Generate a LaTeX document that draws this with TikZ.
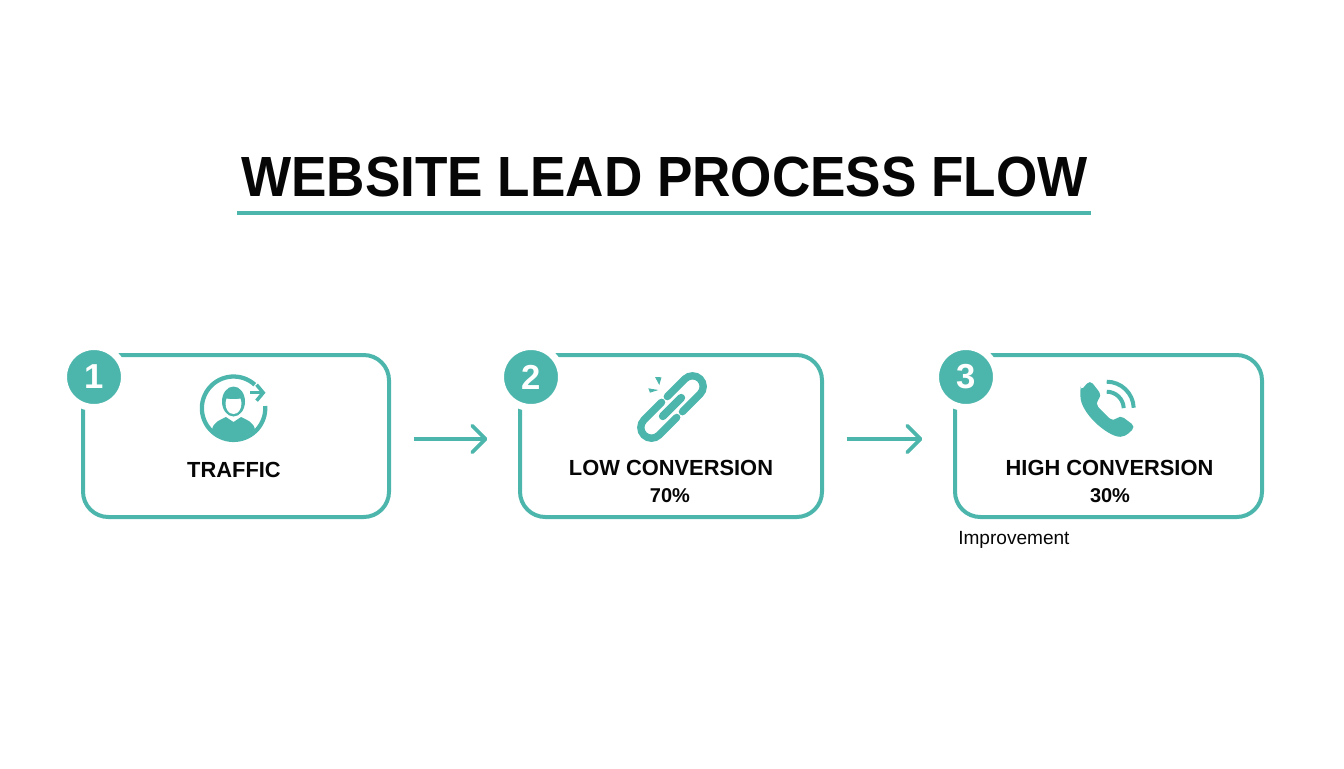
\documentclass[tikz,border=0pt]{standalone}
\usepackage{fontspec}
\setmainfont{Liberation Sans}
\newfontfamily\leadtitle[FakeStretch=0.937]{Liberation Sans}
\usetikzlibrary{arrows.meta}
\definecolor{leadteal}{HTML}{4DB6AC}
\definecolor{leadink}{HTML}{060606}
\tikzset{
  card/.style={draw=leadteal,line width=3pt,rounded corners=19pt,outer sep=0pt,minimum height=121.5pt},
  badge/.style={circle,fill=leadteal,draw=white,line width=5.25pt,minimum size=45.75pt,inner sep=0pt,text=white,font=\bfseries\fontsize{26}{30}\selectfont},
  heading/.style={text=leadink,inner sep=0pt,font=\bfseries\fontsize{16.4}{18}\selectfont},
  value/.style={text=leadink,inner sep=0pt,font=\bfseries\fontsize{15}{18}\selectfont},
  flowarrow/.style={draw=leadteal,line width=2.8pt,shorten <=18.5pt,shorten >=24.5pt,-{Straight Barb[length=10pt,width=20pt,round]}},
  iconline/.style={draw=leadteal,line width=5.5pt,line cap=round},
}
\begin{document}
\begin{tikzpicture}[x=0.75pt,y=-0.75pt]
      \useasboundingbox (0,0) rectangle (1344,768);
      \node (title) at (664.5,176.5) [text=leadink,inner sep=0pt,font=\leadtitle\bfseries\fontsize{42.5}{52}\selectfont] {WEBSITE LEAD PROCESS FLOW};
      \coordinate (ruleleft) at (237,213);
      \coordinate (ruleright) at (1091,213);
      \draw [leadteal,line width=3pt] (ruleleft) -- (ruleright);
      % cards
      \node (traffic) at (236,436) [card,minimum width=229.5pt] {};
      \node (low) at (671,436) [card,minimum width=226.5pt] {};
      \node (high) at (1108.5,436) [card,minimum width=230.25pt] {};
      \node (one) at (94,377) [badge] {1};
      \node (two) at (531,377) [badge] {2};
      \node (three) at (966,377) [badge] {3};
      \node (trafficlabel) at (234,470) [heading] {TRAFFIC};
      \node (lowlabel) at (671,467.5) [heading] {LOW CONVERSION};
      \node (lowvalue) at (670,496) [value] {70\%};
      \node (highlabel) at (1109.5,467.5) [heading] {HIGH CONVERSION};
      \node (highvalue) at (1110,496) [value] {30\%};
      \node (improvement) at (958,540) [anchor=west,text=leadink,inner sep=0pt,font=\fontsize{14.3}{16}\selectfont] {Improvement};
      \draw [flowarrow] ([yshift=-2.25pt]traffic.east) -- ([yshift=-2.25pt]low.west);
      \draw [flowarrow] ([yshift=-2.25pt]low.east) -- ([yshift=-2.25pt]high.west);
      % person icon
      \begin{scope}
        \clip (233.5,408.3) circle [radius=30];
        \fill [leadteal] (212,445) -- (212,430) .. controls (213,422) and (220,420) .. (226,417) -- (233.5,422) -- (241,417) .. controls (247,420) and (254,422) .. (255,430) -- (255,445) -- cycle;
      \end{scope}
      \fill [leadteal] (233.5,401.5) ellipse [x radius=11.5,y radius=15];
      \fill [white] (225.5,403) -- (226.5,398.5) .. controls (231,399.5) and (236,399.5) .. (240.5,398.5) -- (241.5,403) .. controls (241.5,409) and (238.5,414) .. (233.5,414) .. controls (228.5,414) and (225.5,409) .. (225.5,403) -- cycle;
      \draw [leadteal,line width=3.2pt] (265.2,406) arc [start angle=-4,end angle=312,radius=31.7];
      \draw [leadteal,line width=2.6pt,-{Straight Barb[length=5pt,width=12pt]}] (250,392.7) -- (265.5,392.7);
      % chain icon
      \begin{scope}[shift={(672,407)},rotate=45]
        \draw [iconline] (4,-10.7) -- (29,-10.7) arc [start angle=-90,end angle=90,radius=10.7] -- (4,10.7);
        \draw [iconline] (-4,-10.7) -- (-29,-10.7) arc [start angle=270,end angle=90,radius=10.7] -- (-4,10.7);
        \draw [iconline,line width=6pt] (-13,0) -- (13,0);
      \end{scope}
      \fill [leadteal] (655,377) -- (661.5,377.3) -- (659.3,385) -- cycle;
      \fill [leadteal] (648.3,388.3) -- (650,392.7) -- (658.3,390) -- cycle;
      % phone icon
      \fill [leadteal,rounded corners=3.5pt] (1080.5,391) -- (1090,380) -- (1102,395.5) -- (1095,403.3) .. controls (1100,409) and (1107,416) .. (1113.3,421.7) -- (1120,415) -- (1135.5,426.7) -- (1125,436.7) .. controls (1108,437) and (1080,413) .. (1080.5,391) -- cycle;
      \draw [leadteal,line width=3pt] (1106.7,391.7) arc [start angle=-90,end angle=-2,radius=17];
      \draw [leadteal,line width=3pt] (1106.7,381.7) arc [start angle=-90,end angle=-2,radius=27];
    \end{tikzpicture}
\end{document}
